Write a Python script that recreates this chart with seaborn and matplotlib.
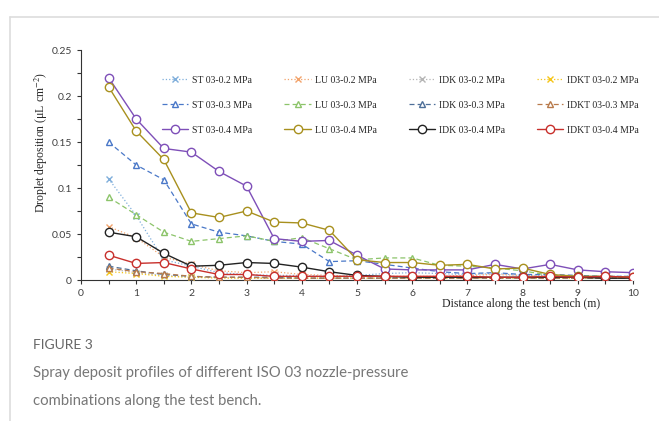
import numpy as np
import pandas as pd
import matplotlib
matplotlib.use("Agg")
import matplotlib.pyplot as plt
from matplotlib.lines import Line2D
from matplotlib.ticker import MultipleLocator
import seaborn as sns

# distances along the bench (m)
distance = [0.5, 1.0, 1.5, 2.0, 2.5, 3.0, 3.5, 4.0, 4.5, 5.0,
            5.5, 6.0, 6.5, 7.0, 7.5, 8.0, 8.5, 9.0, 9.5, 10.0]

# droplet deposition (uL cm-2)
st02 = [0.110, 0.070, 0.022, 0.015, 0.008, 0.006, 0.005, 0.005, 0.004, 0.005,
        0.007, 0.008, 0.007, 0.006, 0.007, 0.005, 0.005, 0.004, 0.004, 0.004]
st03 = [0.150, 0.125, 0.109, 0.061, 0.052, 0.048, 0.042, 0.039, 0.020, 0.021,
        0.017, 0.013, 0.009, 0.007, 0.008, 0.006, 0.006, 0.005, 0.004, 0.004]
st04 = [0.220, 0.175, 0.143, 0.139, 0.118, 0.102, 0.045, 0.042, 0.043, 0.027,
        0.012, 0.011, 0.011, 0.011, 0.017, 0.012, 0.017, 0.011, 0.009, 0.008]
lu02 = [0.058, 0.046, 0.025, 0.017, 0.010, 0.008, 0.009, 0.006, 0.005, 0.004,
        0.004, 0.004, 0.004, 0.005, 0.006, 0.005, 0.004, 0.003, 0.003, 0.003]
lu03 = [0.090, 0.071, 0.052, 0.042, 0.045, 0.048, 0.042, 0.046, 0.034, 0.022,
        0.024, 0.024, 0.016, 0.015, 0.013, 0.010, 0.005, 0.004, 0.004, 0.003]
lu04 = [0.210, 0.162, 0.131, 0.073, 0.068, 0.075, 0.063, 0.062, 0.054, 0.022,
        0.019, 0.019, 0.016, 0.017, 0.012, 0.013, 0.006, 0.004, 0.004, 0.003]
idk02 = [0.012, 0.008, 0.005, 0.003, 0.003, 0.002, 0.002, 0.002, 0.002, 0.002,
         0.002, 0.002, 0.002, 0.002, 0.002, 0.002, 0.002, 0.002, 0.002, 0.002]
idk03 = [0.015, 0.010, 0.006, 0.004, 0.003, 0.003, 0.003, 0.002, 0.002, 0.002,
         0.002, 0.002, 0.002, 0.002, 0.002, 0.002, 0.002, 0.002, 0.002, 0.002]
idk04 = [0.052, 0.047, 0.029, 0.015, 0.016, 0.019, 0.018, 0.014, 0.009, 0.005,
         0.004, 0.003, 0.003, 0.003, 0.003, 0.003, 0.003, 0.003, 0.002, 0.002]
idkt02 = [0.009, 0.007, 0.004, 0.003, 0.002, 0.002, 0.002, 0.002, 0.002, 0.002,
          0.002, 0.002, 0.002, 0.002, 0.002, 0.002, 0.002, 0.002, 0.002, 0.002]
idkt03 = [0.013, 0.009, 0.007, 0.004, 0.003, 0.003, 0.002, 0.002, 0.002, 0.002,
          0.002, 0.002, 0.002, 0.002, 0.002, 0.002, 0.002, 0.002, 0.002, 0.002]
idkt04 = [0.027, 0.018, 0.019, 0.012, 0.006, 0.006, 0.004, 0.004, 0.004, 0.004,
          0.004, 0.004, 0.004, 0.004, 0.003, 0.003, 0.004, 0.003, 0.004, 0.003]

series_names = ["ST 03-0.2 MPa", "ST 03-0.3 MPa", "ST 03-0.4 MPa",
                "LU 03-0.2 MPa", "LU 03-0.3 MPa", "LU 03-0.4 MPa",
                "IDK 03-0.2 MPa", "IDK 03-0.3 MPa", "IDK 03-0.4 MPa",
                "IDKT 03-0.2 MPa", "IDKT 03-0.3 MPa", "IDKT 03-0.4 MPa"]
series_values = [st02, st03, st04, lu02, lu03, lu04,
                 idk02, idk03, idk04, idkt02, idkt03, idkt04]

colors = ["#7FAEDB", "#4A78C8", "#7E4FB8",
          "#F2A36B", "#8CC46A", "#A8901E",
          "#B5B5B5", "#4E6F98", "#222222",
          "#F5C518", "#B87A4B", "#C8302C"]

sns.set_style("ticks")
plt.rcParams["mathtext.fontset"] = "stix"

fig = plt.figure(figsize=(6.59, 4.21), dpi=100)
ax = fig.add_axes([0.1229, 0.3349, 0.8376, 0.5463])

for i, (name, vals) in enumerate(zip(series_names, series_values)):
    p = i % 3  # 0 -> 0.2 MPa, 1 -> 0.3 MPa, 2 -> 0.4 MPa
    df = pd.DataFrame({"x": distance, "y": vals})
    if p == 0:
        ls, mk, ms, lw = ":", "x", 4, 0.9
    elif p == 1:
        ls, mk, ms, lw = (0, (4, 2.5)), "^", 5, 0.9
    else:
        ls, mk, ms, lw = "-", "o", 6, 1.0
    sns.lineplot(data=df, x="x", y="y", ax=ax, color=colors[i], linestyle=ls,
                 linewidth=lw, marker=mk, markersize=ms,
                 markerfacecolor="white" if p > 0 else colors[i],
                 markeredgecolor=colors[i], markeredgewidth=1.0,
                 label=name, zorder=3 + p)

ax.set_xlim(0, 10)
ax.set_ylim(0, 0.25)
ax.xaxis.set_major_locator(MultipleLocator(1))
ax.xaxis.set_minor_locator(MultipleLocator(0.5))
ax.yaxis.set_minor_locator(MultipleLocator(0.025))
ax.set_yticks([0, 0.05, 0.1, 0.15, 0.2, 0.25])
ax.set_yticklabels(["0", "0.05", "0.1", "0.15", "0.2", "0.25"])
ax.tick_params(axis="both", which="both", direction="out", length=3,
               width=0.8, color="#333333", labelsize=7.5, labelcolor="#404040")
for lab in ax.get_xticklabels() + ax.get_yticklabels():
    lab.set_fontfamily("Lato")
sns.despine(ax=ax)
for side in ["left", "bottom"]:
    ax.spines[side].set_color("#333333")
    ax.spines[side].set_linewidth(0.8)

ax.set_xlabel("")
ax.set_ylabel(r"Droplet deposition (μL cm$^{-2}$)", fontfamily="Liberation Serif",
              fontsize=8.5)
ax.yaxis.set_label_coords(-0.056, 0.6)
fig.text(0.79, 0.279, "Distance along the test bench (m)",
         fontfamily="Liberation Serif", fontsize=8.5, ha="center", va="center")

ax.legend(ncol=4, loc="upper left", bbox_to_anchor=(0.147, 0.888), frameon=False,
          prop={"family": "Liberation Serif", "size": 7}, borderpad=0,
          borderaxespad=0, handlelength=2.7, columnspacing=3.3,
          labelspacing=1.65, handletextpad=0.4)

# card frame and caption
fig.add_artist(Line2D([10 / 659, 10 / 659], [0, 1 - 17 / 421], color="#DDDDDD", lw=1.2))
fig.add_artist(Line2D([10 / 659, 1], [1 - 17 / 421, 1 - 17 / 421], color="#DDDDDD", lw=1.2))
fig.text(33 / 659, 1 - 345 / 421, "FIGURE 3", fontfamily="Lato", fontsize=10,
         color="#666666", va="center")
fig.text(33 / 659, 1 - 387 / 421,
         "Spray deposit profiles of different ISO 03 nozzle-pressure\n"
         "combinations along the test bench.",
         fontfamily="Lato", fontsize=10.7, color="#777777", va="center",
         linespacing=2.2)

fig.savefig("out.png", dpi=100)
